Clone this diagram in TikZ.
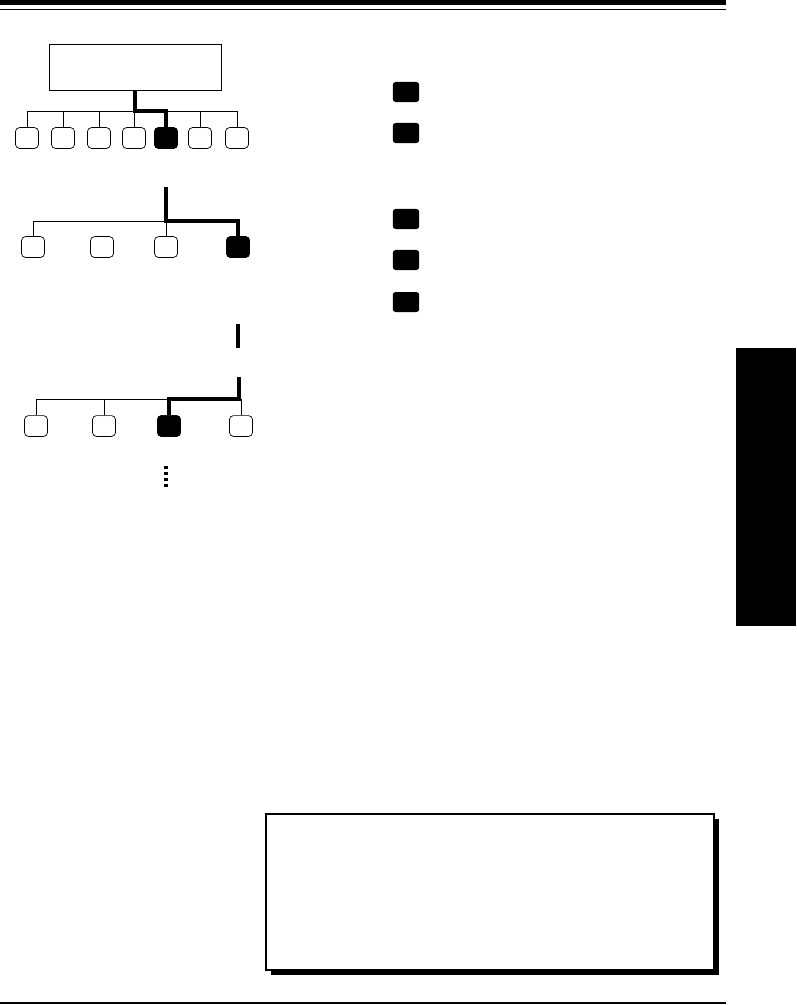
\documentclass[tikz,border=0pt]{standalone}
\usetikzlibrary{positioning,calc,shadows}

\begin{document}
\begin{tikzpicture}[
  x=0.025cm, y=-0.025cm,
  key/.style={rectangle, draw, rounded corners=2.8pt, minimum width=0.575cm, minimum height=0.52cm, inner sep=0pt, line width=0.5pt},
  keyon/.style={key, fill=black},
  head/.style={rectangle, draw, minimum width=4.3cm, minimum height=1.15cm, inner sep=0pt, line width=0.5pt},
  keymark/.style={rectangle, fill=black, rounded corners=2pt, minimum width=0.66cm, minimum height=0.5cm, inner sep=0pt},
  bus/.style={line width=0.6pt},
  selpath/.style={line width=2.8pt},
  dotline/.style={line width=2.4pt, dash pattern=on 2.3pt off 1.9pt},
  notebox/.style={rectangle, draw, line width=1.5pt, fill=white, minimum width=11.2cm, minimum height=3.9cm, inner sep=0pt,
    drop shadow={shadow xshift=0.13cm, shadow yshift=-0.13cm, fill=black, opacity=1}}
]
  \useasboundingbox (0,0) rectangle (796,1005);

  % page rules and side tab
  \fill (0,0) rectangle (726,5);
  \draw[line width=0.9pt] (0,9.5) -- (726,9.5);
  \draw[line width=0.8pt] (0,1003) -- (726,1003);
  \fill (736,348) rectangle (796,626);

  % first level
  \node[head] (top) at (135,67) {};
  \coordinate (bus1) at (0,111);
  \foreach \x [count=\i] in {27,63,99,134,166,200,237}
    \node[key] (a\i) at (\x,138) {};
  \node[keyon] at (a5) {};
  \draw[bus] (a1.north) |- (bus1 -| a7) -- (a7.north);
  \foreach \i in {2,3,4,6}
    \draw[bus] (a\i.north) -- (a\i.north |- bus1);
  \draw[selpath] (top.south) -- (top.south |- bus1) -| (a5.north);

  % second level
  \coordinate (in2) at (166,187);
  \coordinate (bus2) at (0,221);
  \foreach \x [count=\i] in {33,102,166,238}
    \node[key] (b\i) at (\x,247) {};
  \node[keyon] at (b4) {};
  \draw[bus] (b1.north) |- (in2 |- bus2);
  \draw[bus] (b3.north) -- (b3.north |- bus2);
  \draw[selpath] (in2) -- (in2 |- bus2) -| (b4.north);

  % gap
  \coordinate (gap1) at (238,324);
  \coordinate (gap2) at (238,348);
  \draw[selpath] (gap1) -- (gap2);

  % third level
  \coordinate (in3) at (239,377);
  \coordinate (bus3) at (0,399);
  \foreach \x [count=\i] in {36,104,169,241}
    \node[key] (c\i) at (\x,426) {};
  \node[keyon] at (c3) {};
  \draw[bus] (c1.north) |- (c3.north |- bus3);
  \draw[bus] (c2.north) -- (c2.north |- bus3);
  \draw[bus] (c4.north) -- (c4.north |- bus3);
  \draw[selpath] (in3) -- (in3 |- bus3) -| (c3.north);

  % more levels
  \coordinate (more1) at (166,466);
  \coordinate (more2) at (166,487);
  \draw[dotline] (more1) -- (more2);

  % keys on the right
  \foreach \y [count=\i] in {92,133,219,260,302}
    \node[keymark] (k\i) at (406,\y) {};

  % note
  \node[notebox] (note) at (490,892) {};
\end{tikzpicture}
\end{document}
